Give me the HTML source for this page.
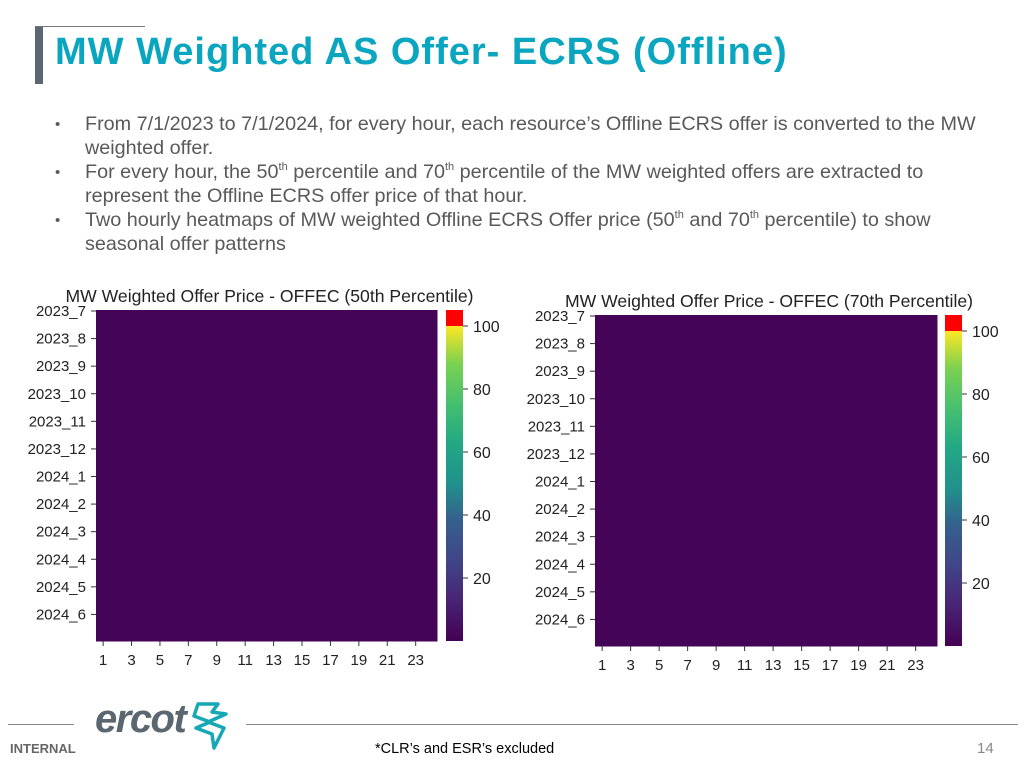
<!DOCTYPE html>
<html><head><meta charset="utf-8"><style>
body{margin:0;width:1024px;height:768px;background:#fff;position:relative;overflow:hidden;font-family:"Liberation Sans",sans-serif}
.abs{position:absolute}
#title{position:absolute;left:55px;top:31px;font-size:38px;font-weight:bold;color:#0aa6c0;white-space:nowrap;letter-spacing:1px}
.bl{position:absolute;left:85px;font-size:19.8px;color:#595959;white-space:nowrap}
.dot{position:absolute;left:55px;font-size:15px;color:#595959}
sup{font-size:11px;vertical-align:8px;line-height:0}
</style></head><body>
<div class="abs" style="left:35px;top:26px;width:110px;height:1px;background:#777"></div>
<div class="abs" style="left:35px;top:27px;width:8px;height:57px;background:#5b6770"></div>
<div id="title">MW Weighted AS Offer- ECRS (Offline)</div>
<div>
<div class="dot" style="top:116px">•</div><div class="dot" style="top:164px">•</div><div class="dot" style="top:212px">•</div>
<div class="bl" style="top:113px">From 7/1/2023 to 7/1/2024, for every hour, each resource’s Offline ECRS offer is converted to the MW</div>
<div class="bl" style="top:137px">weighted offer.</div>
<div class="bl" style="top:161px">For every hour, the 50<sup>th</sup> percentile and 70<sup>th</sup> percentile of the MW weighted offers are extracted to</div>
<div class="bl" style="top:185px">represent the Offline ECRS offer price of that hour.</div>
<div class="bl" style="top:209px">Two hourly heatmaps of MW weighted Offline ECRS Offer price (50<sup>th</sup> and 70<sup>th</sup> percentile) to show</div>
<div class="bl" style="top:233px">seasonal offer patterns</div>
</div>
<svg id="chart" class="abs" style="left:0;top:0" width="1024" height="768">
<defs><linearGradient id="vir" x1="0" y1="1" x2="0" y2="0">
<stop offset="0" stop-color="#440154"/><stop offset="0.13" stop-color="#482475"/><stop offset="0.25" stop-color="#414487"/><stop offset="0.38" stop-color="#355f8d"/><stop offset="0.5" stop-color="#21918c"/><stop offset="0.63" stop-color="#22a884"/><stop offset="0.75" stop-color="#44bf70"/><stop offset="0.88" stop-color="#7ad151"/><stop offset="1" stop-color="#fde725"/>
</linearGradient></defs>
</svg>
<div class="abs" style="left:8px;top:724px;width:66px;height:1px;background:#888"></div>
<div class="abs" style="left:246px;top:724px;width:772px;height:1px;background:#888"></div>
<div class="abs" style="left:10px;top:741px;font-size:13px;font-weight:bold;color:#666">INTERNAL</div>
<div class="abs" style="left:95px;top:697px;font-size:40px;font-style:italic;font-weight:bold;color:#5b6770;letter-spacing:-1.5px">ercot</div>
<svg class="abs" style="left:190px;top:700px" width="40" height="52"><path d="M8 4 L28 4 L22 12 L36 14 L18 22 L34 28 L24 48 L22 34 L6 28 L20 22 L4 16 Z" fill="none" stroke="#17a8b5" stroke-width="3.5" stroke-linejoin="round"/></svg>
<div class="abs" style="left:375px;top:741px;font-size:14.5px;color:#000">*CLR’s and ESR’s excluded</div>
<div class="abs" style="left:977px;top:740px;font-size:15px;color:#888">14</div>
<script>
const months=["2023_7","2023_8","2023_9","2023_10","2023_11","2023_12","2024_1","2024_2","2024_3","2024_4","2024_5","2024_6"];
const hourLabels=[1,3,5,7,9,11,13,15,17,19,21,23];
const cbTicks=[20,40,60,80,100];
// monthly rows x 24 hours, values in $/MW (all near zero)
const p50=[
[1,1,1,1,1,1,1,1,1,1,1,1,1,1,1,1,1,1,1,1,1,1,1,1],
[1,1,1,1,1,1,1,1,1,1,1,1,1,1,1,1,1,1,1,1,1,1,1,1],
[1,1,1,1,1,1,1,1,1,1,1,1,1,1,1,1,1,1,1,1,1,1,1,1],
[1,1,1,1,1,1,1,1,1,1,1,1,1,1,1,1,1,1,1,1,1,1,1,1],
[1,1,1,1,1,1,1,1,1,1,1,1,1,1,1,1,1,1,1,1,1,1,1,1],
[1,1,1,1,1,1,1,1,1,1,1,1,1,1,1,1,1,1,1,1,1,1,1,1],
[1,1,1,1,1,1,1,1,1,1,1,1,1,1,1,1,1,1,1,1,1,1,1,1],
[1,1,1,1,1,1,1,1,1,1,1,1,1,1,1,1,1,1,1,1,1,1,1,1],
[1,1,1,1,1,1,1,1,1,1,1,1,1,1,1,1,1,1,1,1,1,1,1,1],
[1,1,1,1,1,1,1,1,1,1,1,1,1,1,1,1,1,1,1,1,1,1,1,1],
[1,1,1,1,1,1,1,1,1,1,1,1,1,1,1,1,1,1,1,1,1,1,1,1],
[1,1,1,1,1,1,1,1,1,1,1,1,1,1,1,1,1,1,1,1,1,1,1,1]];
const p70=[
[1,1,1,1,1,1,1,1,1,1,1,1,1,1,1,1,1,1,1,1,1,1,1,1],
[1,1,1,1,1,1,1,1,1,1,1,1,1,1,1,1,1,1,1,1,1,1,1,1],
[1,1,1,1,1,1,1,1,1,1,1,1,1,1,1,1,1,1,1,1,1,1,1,1],
[1,1,1,1,1,1,1,1,1,1,1,1,1,1,1,1,1,1,1,1,1,1,1,1],
[1,1,1,1,1,1,1,1,1,1,1,1,1,1,1,1,1,1,1,1,1,1,1,1],
[1,1,1,1,1,1,1,1,1,1,1,1,1,1,1,1,1,1,1,1,1,1,1,1],
[1,1,1,1,1,1,1,1,1,1,1,1,1,1,1,1,1,1,1,1,1,1,1,1],
[1,1,1,1,1,1,1,1,1,1,1,1,1,1,1,1,1,1,1,1,1,1,1,1],
[1,1,1,1,1,1,1,1,1,1,1,1,1,1,1,1,1,1,1,1,1,1,1,1],
[1,1,1,1,1,1,1,1,1,1,1,1,1,1,1,1,1,1,1,1,1,1,1,1],
[1,1,1,1,1,1,1,1,1,1,1,1,1,1,1,1,1,1,1,1,1,1,1,1],
[1,1,1,1,1,1,1,1,1,1,1,1,1,1,1,1,1,1,1,1,1,1,1,1]];
const vmin=0,vmax=100;
const stops=[[68,1,84],[72,36,117],[65,68,135],[53,95,141],[33,145,140],[34,168,132],[68,191,112],[122,209,81],[253,231,37]];
function viridis(v){if(v>vmax)return "#ff0000";let t=Math.max(0,(v-vmin)/(vmax-vmin))*(stops.length-1);let i=Math.min(stops.length-2,Math.floor(t)),f=t-i;const c=stops[i].map((a,k)=>Math.round(a+(stops[i+1][k]-a)*f));return `rgb(${c})`;}
const svg=document.getElementById('chart');const NS="http://www.w3.org/2000/svg";
function mk(tag,attrs,parent){const e=document.createElementNS(NS,tag);for(const k in attrs)e.setAttribute(k,attrs[k]);(parent||svg).appendChild(e);return e;}
function draw(data,title,x0,y0,w,h,cbx,redH,slug){
  const g=mk('g',{});
  
  
  const xs=hr=>x0+(hr-1)*w/24, ys=m=>y0+m*h/12;
  const t=mk('text',{x:x0+w/2+3,y:y0-8,'font-size':17.6,'text-anchor':'middle',fill:'#222','font-family':'Liberation Sans'},g);t.textContent=title;
  
  
  data.forEach((row,m)=>row.forEach((v,hh)=>{const r=mk('rect',{x:xs(hh+1),y:ys(m),width:w/24+0.5,height:h/12+0.5,fill:viridis(v)},g);
    
    }));
  months.forEach((lb,m)=>{const y=ys(m)+1;mk('line',{x1:x0-5,x2:x0,y1:y,y2:y,stroke:'#333'},g);
    const tx=mk('text',{x:x0-10,y:y+5,'font-size':15,'text-anchor':'end',fill:'#222','font-family':'Liberation Sans'},g);tx.textContent=lb;
    
    });
  hourLabels.forEach(hv=>{const x=xs(hv)+w/48;mk('line',{x1:x,x2:x,y1:y0+h,y2:y0+h+5,stroke:'#333'},g);
    const tx=mk('text',{x:x,y:y0+h+24,'font-size':15,'text-anchor':'middle',fill:'#222','font-family':'Liberation Sans'},g);tx.textContent=hv;
    
    });
  const cb=mk('g',{},g);
  
  
  const cy0=y0+redH, ch=h-redH, cs=v=>cy0+ch*(1-(v-vmin)/(vmax-vmin));
  mk('rect',{x:cbx,y:y0,width:17,height:redH,fill:'#ff0000'},cb);
  mk('rect',{x:cbx,y:cy0,width:17,height:ch,fill:'url(#vir)'},cb);
  cbTicks.forEach(v=>{const y=cs(v);mk('line',{x1:cbx+17,x2:cbx+22,y1:y,y2:y,stroke:'#333'},cb);
    const tx=mk('text',{x:cbx+27,y:y+6,'font-size':16,fill:'#222','font-family':'Liberation Sans'},cb);tx.textContent=v;
    
    });
}
draw(p50,"MW Weighted Offer Price - OFFEC (50th Percentile)",96,310,341,331,446,16,'heatmap-50th-percentile');
draw(p70,"MW Weighted Offer Price - OFFEC (70th Percentile)",595,315,342,331,945,16,'heatmap-70th-percentile');
</script>
</body></html>
